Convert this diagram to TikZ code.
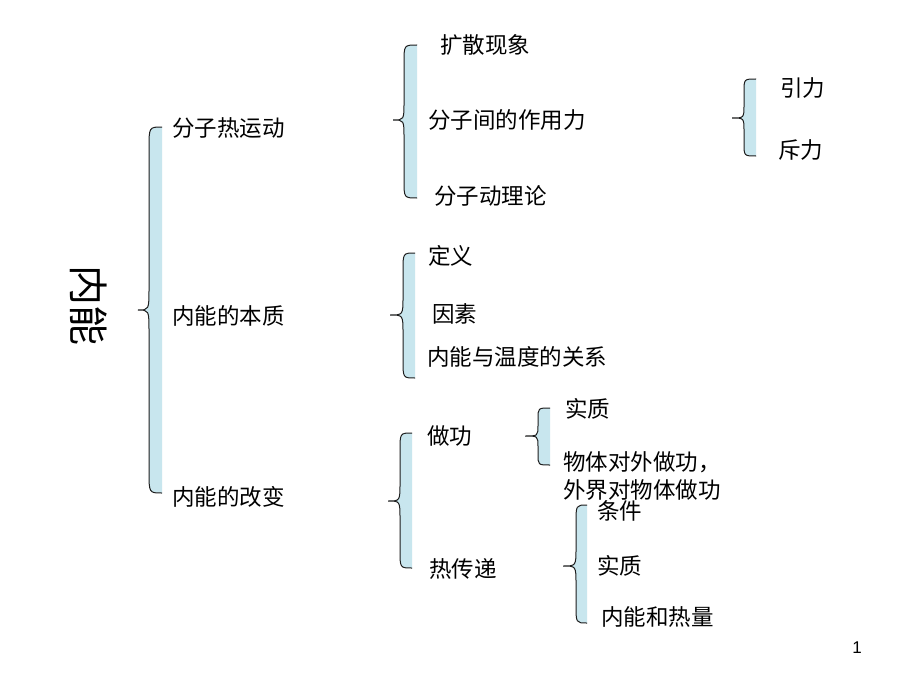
\documentclass[tikz,border=0pt]{standalone}
\usepackage{fontspec}
\setmainfont{Noto Sans CJK SC}
\newfontfamily\numfont{Liberation Sans}
\definecolor{bracefill}{RGB}{200,230,238}
\definecolor{braceline}{RGB}{30,30,30}
% #1 xt, #2 xv, #3 xr, #4 ytop, #5 ytip, #6 ybot, #7 d
\newcommand\cbrace[7]{%
  \fill[bracefill] (#3,#4) .. controls (#2,#4) .. (#2,#4+#7) -- (#2,#5-#7)
    .. controls (#2,#5) .. (#1,#5) .. controls (#2,#5) .. (#2,#5+#7)
    -- (#2,#6-#7) .. controls (#2,#6) .. (#3,#6) -- cycle;
  \draw[braceline,line width=1pt] (#3,#4) .. controls (#2,#4) .. (#2,#4+#7) -- (#2,#5-#7)
    .. controls (#2,#5) .. (#1,#5) .. controls (#2,#5) .. (#2,#5+#7)
    -- (#2,#6-#7) .. controls (#2,#6) .. (#3,#6);
}
\begin{document}
\begin{tikzpicture}[x=1pt,y=-1pt,
  lbl/.style={anchor=west,inner sep=0pt,font=\fontsize{22.5}{26}\selectfont},
  big/.style={inner sep=0pt,font=\fontsize{40}{44}\selectfont,rotate=-90}]
\useasboundingbox (0,0) rectangle (920,690);
\fill[white] (0,0) rectangle (920,690);
% braces
\cbrace{138}{149}{162}{127}{310}{493}{22}
\cbrace{393}{404}{417}{45}{120}{198}{18}
\cbrace{732}{744}{756}{79}{118}{156}{13}
\cbrace{390}{403}{415}{253}{315}{378}{18}
\cbrace{388}{400}{412}{433}{501}{568}{18}
\cbrace{525}{538}{550}{408}{436}{465}{11}
\cbrace{563}{576}{587}{505}{566}{623}{18}
% texts
\node[big] (root) at (89,305) {内能};
\node[lbl] (a1) at (172,128) {分子热运动};
\node[lbl] (a2) at (172,316) {内能的本质};
\node[lbl] (a3) at (172,497) {内能的改变};
\node[lbl] (b1) at (440,45) {扩散现象};
\node[lbl] (b2) at (428,120) {分子间的作用力};
\node[lbl] (b3) at (434,196) {分子动理论};
\node[lbl] (c1) at (780,88) {引力};
\node[lbl] (c2) at (778,150) {斥力};
\node[lbl] (d1) at (428,256) {定义};
\node[lbl] (d2) at (432,314) {因素};
\node[lbl] (d3) at (427,357) {内能与温度的关系};
\node[lbl] (e1) at (427,436) {做功};
\node[lbl] (e2) at (429,569) {热传递};
\node[lbl] (f1) at (565,409) {实质};
\node[lbl] (f2) at (563,462) {物体对外做功，};
\node[lbl] (f3) at (563,490) {外界对物体做功};
\node[lbl] (g1) at (597,511) {条件};
\node[lbl] (g2) at (597,566) {实质};
\node[lbl] (g3) at (601,617) {内能和热量};
\node[inner sep=0pt,font=\numfont\fontsize{17}{20}\selectfont] (pg) at (857,648) {1};
\end{tikzpicture}
\end{document}
